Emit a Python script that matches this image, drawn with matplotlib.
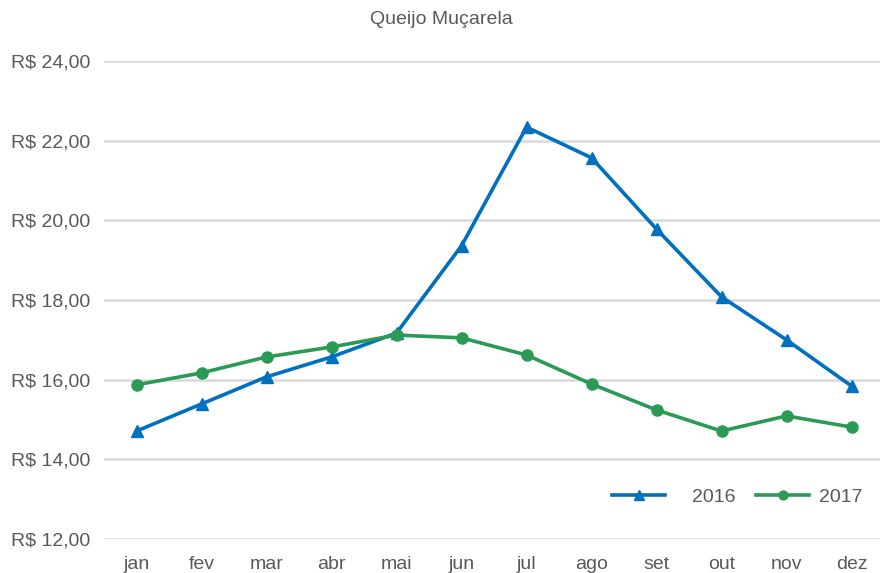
import matplotlib
matplotlib.use("Agg")
import matplotlib.pyplot as plt
from matplotlib.ticker import FuncFormatter

months = ["jan", "fev", "mar", "abr", "mai", "jun", "jul", "ago", "set", "out", "nov", "dez"]
s2016 = [14.71, 15.39, 16.07, 16.57, 17.17, 19.36, 22.34, 21.57, 19.78, 18.08, 17.00, 15.84]
s2017 = [15.87, 16.17, 16.57, 16.82, 17.12, 17.05, 16.62, 15.89, 15.24, 14.71, 15.09, 14.81]
yticks = [12, 14, 16, 18, 20, 22, 24]

plt.rcParams['font.family'] = ['Liberation Sans', 'DejaVu Sans']

fig = plt.figure(figsize=(8.8, 5.73), dpi=100)
ax = fig.add_axes([104/880, 1-539/573, 780/880, (539-61)/573])

x = list(range(len(months)))
l1, = ax.plot(x, s2016, color="#0070C0", lw=2.6, marker="^", ms=9, label="2016", zorder=3)
l2, = ax.plot(x, s2017, color="#2A9A55", lw=2.6, marker="o", ms=8, label="2017", zorder=3)

ax.set_xlim(-0.5, 11.5)
ax.set_ylim(12, 24)
ax.set_yticks(yticks)
ax.yaxis.set_major_formatter(FuncFormatter(lambda v, p: "R$ " + f"{v:.2f}".replace(".", ",")))
ax.set_xticks(x)
ax.set_xticklabels(months)
ax.grid(axis="y", color="#D9D9D9", lw=1.8)
ax.set_axisbelow(True)
for s in ax.spines.values():
    s.set_visible(False)
ax.tick_params(length=0, labelsize=14, colors="#595959")
ax.tick_params(axis="x", pad=12)
ax.tick_params(axis="y", pad=10)

fig.text(441/880, 1-20/573, "Queijo Muçarela", ha="center", va="center", fontsize=14, color="#595959")

common = dict(loc="center left", frameon=False, fontsize=14, markerscale=0.8,
              borderaxespad=0, borderpad=0, handlelength=2.75)
leg1 = fig.legend([l1], [l1.get_label()], bbox_to_anchor=(612/880, 1-497/573),
                  handletextpad=1.35, **common)
leg2 = fig.legend([l2], [l2.get_label()], bbox_to_anchor=(756/880, 1-497/573),
                  handletextpad=0.5, **common)
for leg in (leg1, leg2):
    for t in leg.get_texts():
        t.set_color("#595959")

fig.savefig("out.png", dpi=100)
